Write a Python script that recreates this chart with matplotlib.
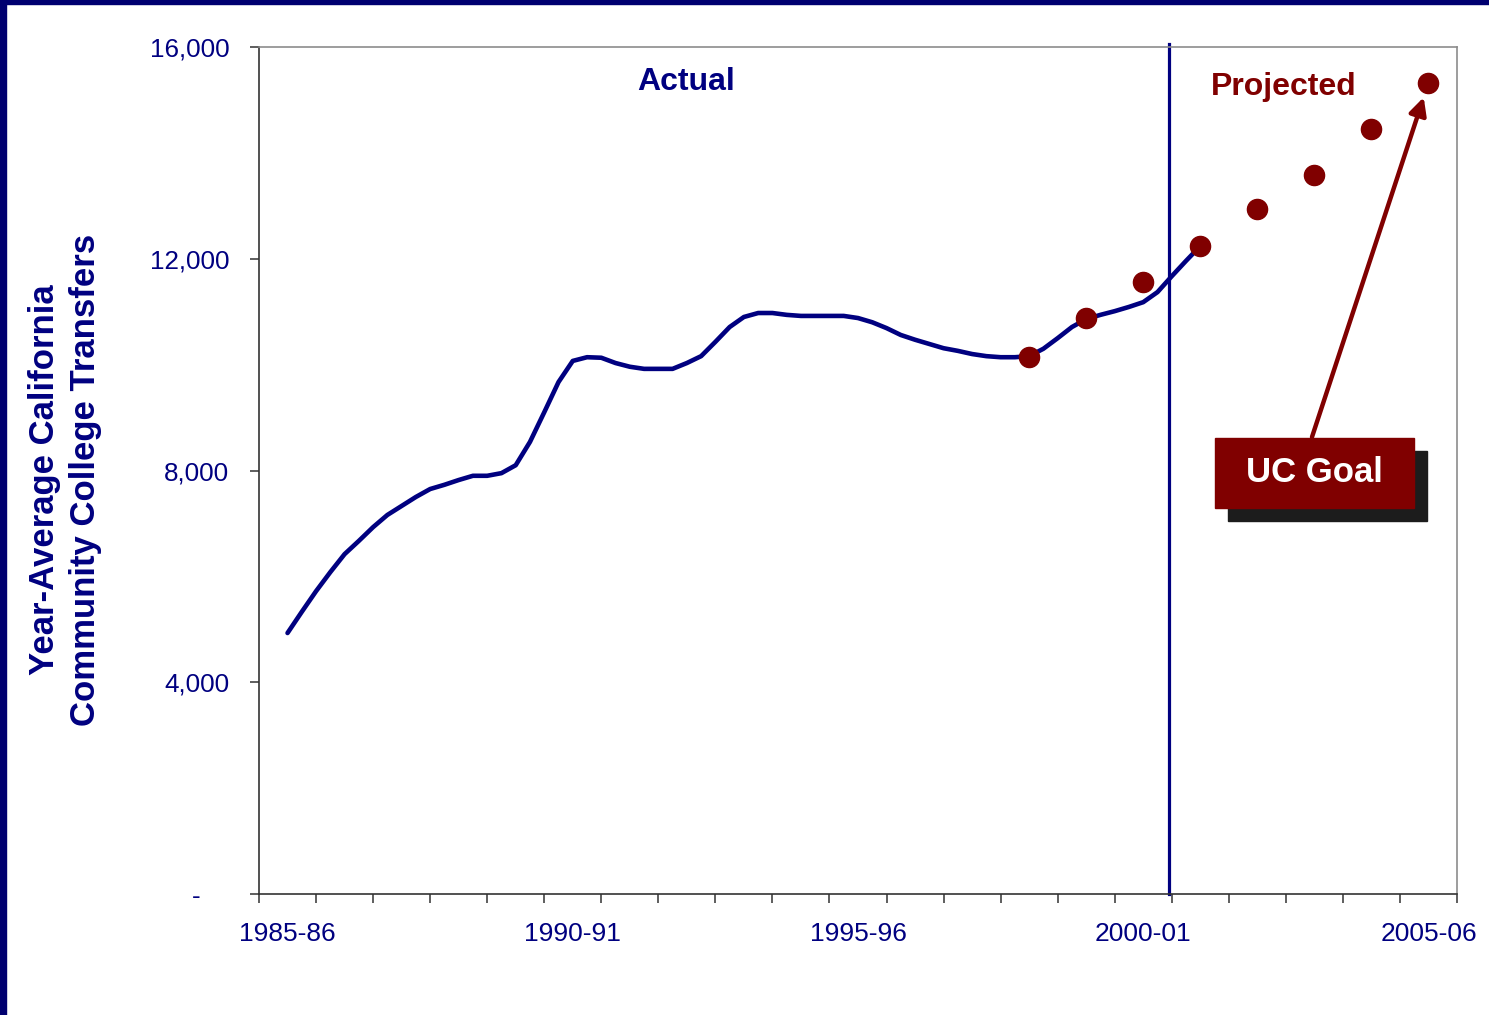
import numpy as np
import matplotlib
matplotlib.use("Agg")
import matplotlib.pyplot as plt
from matplotlib.patches import Rectangle

NAVY = "#000080"
MAROON = "#800000"

# school years on the category axis
years = ["1985-86", "1986-87", "1987-88", "1988-89", "1989-90", "1990-91",
         "1991-92", "1992-93", "1993-94", "1994-95", "1995-96", "1996-97",
         "1997-98", "1998-99", "1999-00", "2000-01", "2001-02", "2002-03",
         "2003-04", "2004-05", "2005-06"]

# year-average transfers, sampled each quarter from 1985-86 through 2001-02
actual = [4930, 5330, 5720, 6080, 6420, 6670, 6930, 7160, 7330, 7500,
          7650, 7730, 7820, 7900, 7900, 7950, 8100, 8540, 9100, 9670,
          10070, 10140, 10130, 10030, 9960, 9920, 9920, 9920, 10030, 10160,
          10430, 10710, 10900, 10975, 10975, 10940, 10920, 10920, 10920, 10920,
          10880, 10800, 10690, 10560, 10470, 10390, 10310, 10260, 10200, 10160,
          10140, 10140, 10160, 10300, 10500, 10710, 10860, 10940, 11010, 11090,
          11180, 11370, 11670, 11960, 12240]

# projected path toward the UC goal
goal_years = ["1998-99", "1999-00", "2000-01", "2001-02", "2002-03",
              "2003-04", "2004-05", "2005-06"]
goal = [10150, 10875, 11555, 12245, 12935, 13580, 14450, 15325]

# boundary between actual and projected
split_at = 15.46

fig = plt.figure(figsize=(14.89, 10.15), dpi=100)
plt.rcParams["font.family"] = ["Liberation Sans", "DejaVu Sans"]

# dark frame on top and left edge
fig.patches.append(Rectangle((0, 1 - 4 / 1015), 1, 4 / 1015, transform=fig.transFigure,
                             color="#000070", zorder=0))
fig.patches.append(Rectangle((0, 0), 6 / 1489, 1, transform=fig.transFigure,
                             color="#000070", zorder=0))

ax = fig.add_axes([259 / 1489, 1 - 894 / 1015, 1198 / 1489, 847 / 1015])

x_act = np.arange(len(actual)) / 4
ax.plot(x_act, actual, color=NAVY, lw=3.3, solid_joinstyle="round",
        solid_capstyle="round", zorder=3)

x_goal = [years.index(y) for y in goal_years]
ax.plot(x_goal, goal, "o", color=MAROON, ms=14.5, mec=MAROON, zorder=4)

ax.axvline(split_at, ymin=0, ymax=1.003, color=NAVY, lw=2.3, zorder=2, clip_on=False)

ax.set_xlim(-0.5, len(years) - 0.5)
ax.set_ylim(0, 16000)

# y axis
ax.set_yticks([0, 4000, 8000, 12000, 16000])
ax.set_yticklabels(["-    ", "4,000", "8,000", "12,000", "16,000"])
ax.tick_params(axis="y", direction="out", length=6.5, width=1.1, color="#333333",
               pad=15, labelsize=18.7, labelcolor=NAVY)

# x axis: labels every fifth year, ticks at category edges
ax.set_xticks(range(0, len(years), 5))
ax.set_xticklabels(years[::5])
ax.set_xticks(np.arange(-0.5, len(years), 1), minor=True)
ax.tick_params(axis="x", which="major", length=0, pad=20, labelsize=19, labelcolor=NAVY)
ax.tick_params(axis="x", which="minor", direction="out", length=6.5, width=1.1,
               color="#333333")

for s in ("left", "bottom"):
    ax.spines[s].set_color("#333333")
    ax.spines[s].set_linewidth(1.2)
for s in ("top", "right"):
    ax.spines[s].set_color("#8c8c8c")
    ax.spines[s].set_linewidth(1.2)

fig.text(65 / 1489, 1 - 480 / 1015,
         "Year-Average California\nCommunity College Transfers",
         rotation=90, ha="center", va="center", fontsize=25, fontweight="bold",
         color=NAVY, linespacing=1.3)

ax.text(0.3564, 0.9587, "Actual", transform=ax.transAxes, ha="center", va="center",
        fontsize=23, fontweight="bold", color=NAVY)
ax.text(0.8556, 0.9528, "Projected", transform=ax.transAxes, ha="center", va="center",
        fontsize=23, fontweight="bold", color=MAROON)

# UC Goal call-out with drop shadow
bx0, by0, bw, bh = (1215 - 259) / 1198, (894 - 507.7) / 847, 199 / 1198, 69.4 / 847
ax.add_patch(Rectangle((bx0 + 13 / 1198, by0 - 13 / 847), bw, bh, transform=ax.transAxes,
                       color="#1c1c1c", zorder=5, clip_on=False))
ax.add_patch(Rectangle((bx0, by0), bw, bh, transform=ax.transAxes,
                       color=MAROON, zorder=6, clip_on=False))
ax.text(bx0 + bw / 2, by0 + bh / 2, "UC Goal", transform=ax.transAxes,
        ha="center", va="center", fontsize=25, fontweight="bold", color="white", zorder=7)

ax.annotate("", xy=(x_goal[-1], goal[-1]), xycoords="data",
            xytext=((1312 - 259) / 1198, (894 - 437) / 847), textcoords="axes fraction",
            arrowprops=dict(arrowstyle="-|>", color=MAROON, lw=3.2,
                            mutation_scale=26, shrinkA=0, shrinkB=11),
            zorder=5)

fig.savefig("out.png", dpi=100)
